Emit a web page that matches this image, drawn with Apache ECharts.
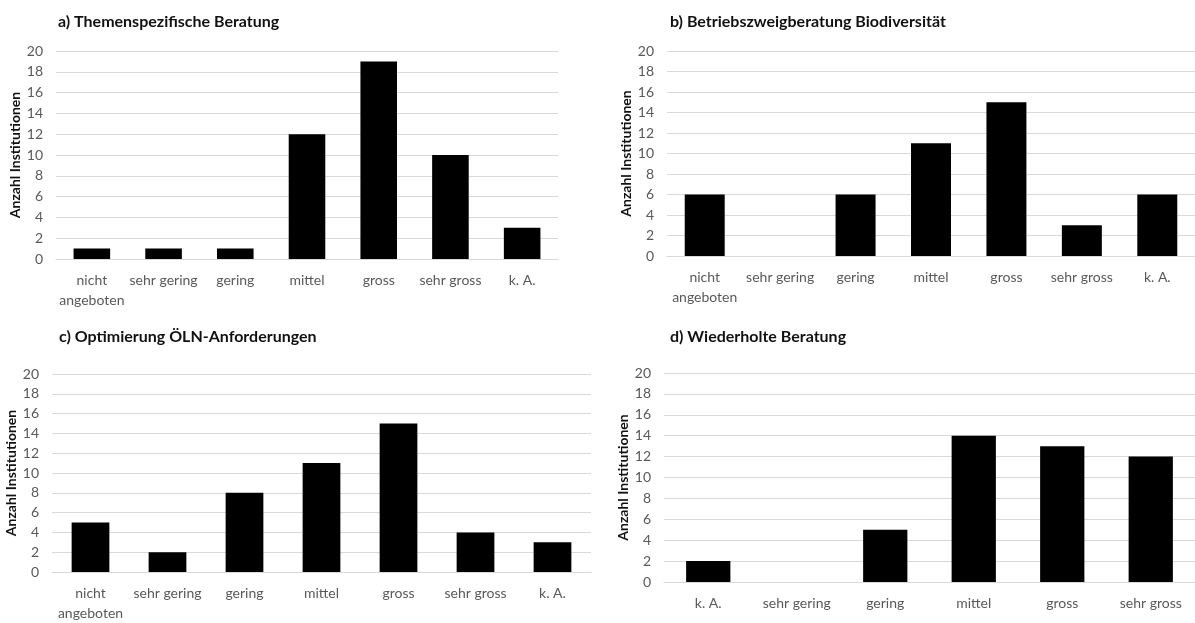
<!DOCTYPE html>
<html>
<head>
<meta charset="utf-8">
<title>Beratung – Anzahl Institutionen</title>
<script src="https://cdn.jsdelivr.net/npm/echarts@6/dist/echarts.min.js"></script>
<style>
  html, body { margin: 0; padding: 0; background: #fff; }
  #chart { width: 1195px; height: 623px; }
</style>
</head>
<body>
<div id="chart"></div>
<script>
// Category labels for each panel
const catsStd = ['nicht\nangeboten', 'sehr gering', 'gering', 'mittel', 'gross', 'sehr gross', 'k. A.'];
const catsD = ['k. A.', 'sehr gering', 'gering', 'mittel', 'gross', 'sehr gross'];

// Number of institutions per rating
const valuesA = [1, 1, 1, 12, 19, 10, 3];
const valuesB = [6, 0, 6, 11, 15, 3, 6];
const valuesC = [5, 2, 8, 11, 15, 4, 3];
const valuesD = [2, 0, 5, 14, 13, 12];

// Panel titles
const titles = [
  'a) Themenspezifische Beratung',
  'b) Betriebszweigberatung Biodiversität',
  'c) Optimierung ÖLN-Anforderungen',
  'd) Wiederholte Beratung'
];
const yName = 'Anzahl Institutionen';
const yMax = 20;
const yStep = 2;

const FONT = 'Lato, "Open Sans", sans-serif';
const GRID_COLOR = '#d9d9d9';
const LABEL_COLOR = '#595959';

// Plot area geometry for the four panels
const panels = [
  { cats: catsStd, data: valuesA, grid: { left: 56, top: 51, width: 502, height: 208 }, title: { left: 58, top: 14 }, bw: '51%' },
  { cats: catsStd, data: valuesB, grid: { left: 667, top: 51, width: 532, height: 205 }, title: { left: 670, top: 14 }, bw: '53%' },
  { cats: catsStd, data: valuesC, grid: { left: 52, top: 374, width: 539, height: 205 }, title: { left: 59, top: 329 }, bw: '49%' },
  { cats: catsD, data: valuesD, grid: { left: 664, top: 373, width: 537, height: 209 }, title: { left: 670, top: 329 }, bw: '50%' }
];

const option = {
  animation: false,
  backgroundColor: '#ffffff',
  title: panels.map((p, i) => ({
    text: titles[i],
    left: p.title.left,
    top: p.title.top,
    padding: 0,
    textStyle: { fontFamily: FONT, fontSize: 16, fontWeight: 'bold', color: '#111' }
  })),
  grid: panels.map(p => Object.assign({ containLabel: false }, p.grid)),
  xAxis: panels.map((p, i) => ({
    type: 'category',
    gridIndex: i,
    data: p.cats,
    axisTick: { show: false },
    axisLine: { lineStyle: { color: GRID_COLOR, width: 1 } },
    axisLabel: {
      color: LABEL_COLOR, fontFamily: FONT, fontSize: 14, margin: 11,
      lineHeight: 20, interval: 0
    }
  })),
  yAxis: panels.map((p, i) => ({
    type: 'value',
    gridIndex: i,
    min: 0,
    max: yMax,
    interval: yStep,
    name: yName,
    nameLocation: 'middle',
    nameGap: 31,
    nameTextStyle: { fontFamily: FONT, fontSize: 14, fontWeight: 'bold', color: '#111' },
    axisLine: { show: false },
    axisTick: { show: false },
    axisLabel: { color: LABEL_COLOR, fontFamily: FONT, fontSize: 14, margin: 13 },
    splitLine: { lineStyle: { color: GRID_COLOR, width: 1 } }
  })),
  series: panels.map((p, i) => ({
    type: 'bar',
    xAxisIndex: i,
    yAxisIndex: i,
    data: p.data,
    barWidth: p.bw,
    itemStyle: { color: '#000000' }
  }))
};

const chart = echarts.init(document.getElementById('chart'), null, { renderer: 'canvas' });
chart.setOption(option);
</script>
</body>
</html>
